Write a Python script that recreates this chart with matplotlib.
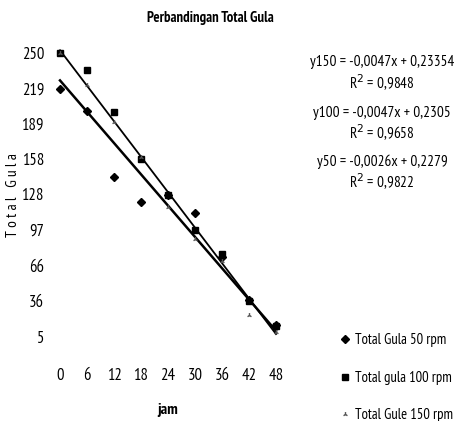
import numpy as np
import matplotlib.pyplot as plt

plt.rcParams['font.family'] = ['PT Sans Narrow', 'Roboto Condensed', 'DejaVu Sans']

jam = [0, 6, 12, 18, 24, 30, 36, 42, 48]
gula50 = [219, 200, 143, 121, 127, 112, 74, 37, 15]
gula100 = [250, 235, 199, 158, 127, 97, 76, 36, 14]
gula150 = [250, 222, 190, 160, 117, 89, 70, 24, 9]

# trend lines (intercept, slope) as drawn on the chart
trend_hi = (252, -5.1)
trend_lo = (226, -4.5)

yticks = [5, 36, 66, 97, 128, 158, 189, 219, 250]
xticks = [0, 6, 12, 18, 24, 30, 36, 42, 48]

persamaan = ["y150 = -0,0047x + 0,23354", "R$^2$ = 0,9848",
             "y100 = -0,0047x + 0,2305", "R$^2$ = 0,9658",
             "y50 = -0,0026x + 0,2279", "R$^2$ = 0,9822"]

fig = plt.figure(figsize=(4.58, 4.21), dpi=100)
ax = fig.add_axes([51/458, 1 - 354/421, 234/458, 313/421])

xs = np.array([0, 48])
ax.plot(xs, trend_hi[0] + trend_hi[1]*xs, color='black', lw=1.3)
ax.plot(xs, trend_lo[0] + trend_lo[1]*xs, color='black', lw=1.8)

s50, = ax.plot(jam, gula50, 'D', color='black', ms=4.5, label='Total Gula 50 rpm')
s100, = ax.plot(jam, gula100, 's', color='black', ms=4.5, label='Total gula 100 rpm')
s150, = ax.plot(jam, gula150, '2', color='#555555', ms=3.5, label='Total Gule 150 rpm')

ax.set_xlim(-2, 50)
ax.set_ylim(-10, 260)
ax.set_xticks(xticks)
ax.set_yticks(yticks)
ax.tick_params(length=0, labelsize=12, pad=5)
ax.tick_params(axis='x', pad=10)
for s in ax.spines.values():
    s.set_visible(False)

ax.set_xlabel('jam', fontsize=11.5, fontweight='bold', labelpad=14)
fig.text(13/458, 1 - 195/421, 'T o t a l   G u l a', rotation=90, fontsize=11,
         ha='center', va='center')
fig.text(210/458, 1 - 18/421, 'Perbandingan Total Gula', fontsize=10.5,
         fontweight='bold', ha='center', va='center')

ys = [62, 83, 113, 133, 162, 182]
for t, y in zip(persamaan, ys):
    fig.text(382/458, 1 - y/421, t, fontsize=11, ha='center', va='center')

fig.legend(handles=[s50, s100, s150], loc='upper left',
           bbox_to_anchor=(333/458, 1 - 326/421), frameon=False,
           fontsize=10.5, labelspacing=1.6, handlelength=0.7,
           handletextpad=0.3, borderpad=0)

fig.savefig('out.png', dpi=100)
